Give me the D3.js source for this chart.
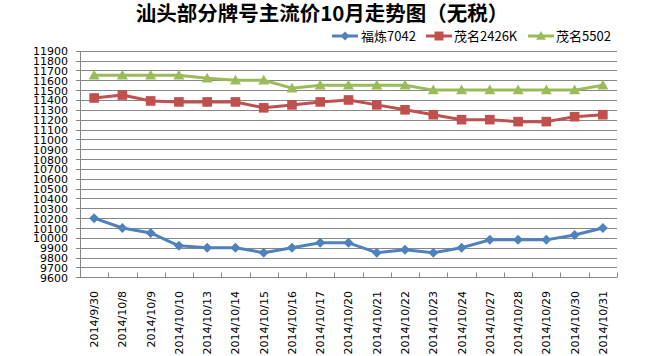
<!DOCTYPE html>
<html>
<head>
<meta charset="utf-8">
<script src="https://cdn.jsdelivr.net/npm/d3@7"></script>
<style>
  html, body { margin: 0; padding: 0; background: #fff; }
  svg { display: block; }
</style>
</head>
<body>
<div id="chart"></div>
<script>
const title = "汕头部分牌号主流价10月走势图（无税）";
const dates = ["2014/9/30","2014/10/8","2014/10/9","2014/10/10","2014/10/13","2014/10/14","2014/10/15","2014/10/16","2014/10/17","2014/10/20","2014/10/21","2014/10/22","2014/10/23","2014/10/24","2014/10/27","2014/10/28","2014/10/29","2014/10/30","2014/10/31"];
const seriesNames = ["福炼7042", "茂名2426K", "茂名5502"];
const fl7042  = [10200,10100,10050,9920,9900,9900,9850,9900,9950,9950,9850,9880,9850,9900,9980,9980,9980,10030,10100];
const mm2426K = [11420,11450,11390,11380,11380,11380,11320,11350,11380,11400,11350,11300,11250,11200,11200,11180,11180,11230,11250];
const mm5502  = [11650,11650,11650,11650,11620,11600,11600,11520,11550,11550,11550,11550,11500,11500,11500,11500,11500,11500,11550];
const yTicks = d3.range(9600, 11901, 100);

const W = 650, H = 356;
const plotL = 80, plotR = 617, plotT = 50.7, plotB = 277.3;
const colors = ["#4F81BD", "#C0504D", "#9BBB59"];
const markers = ["diamond", "square", "triangle"];
const series = [fl7042, mm2426K, mm5502];

const svg = d3.select("#chart").append("svg").attr("width", W).attr("height", H);

const x = d3.scaleBand().domain(dates).range([plotL, plotR]).padding(0);
const y = d3.scaleLinear().domain([9600, 11900]).range([plotB, plotT]);
const cx = d => x(d) + x.bandwidth() / 2;
const snap = v => Math.round(v) + 0.5;

// Title
svg.append("text")
  .attr("x", 322).attr("y", 21)
  .attr("text-anchor", "middle")
  .attr("font-family", "'Noto Sans CJK SC', sans-serif")
  .attr("font-weight", "bold")
  .attr("font-size", 20.5)
  .attr("fill", "#000")
  .text(title);

// Gridlines
const grid = svg.append("g");
yTicks.forEach(t => {
  grid.append("line")
    .attr("x1", plotL - 4).attr("x2", plotR)
    .attr("y1", snap(y(t))).attr("y2", snap(y(t)))
    .attr("stroke", "#878787").attr("stroke-width", 1);
});

// Y axis line
svg.append("line")
  .attr("x1", plotL + 0.5).attr("x2", plotL + 0.5)
  .attr("y1", snap(y(11900))).attr("y2", snap(y(9600)))
  .attr("stroke", "#878787");

// Y tick labels via d3 axis
const yAxis = d3.axisLeft(y).tickValues(yTicks).tickSize(0).tickPadding(0).tickFormat(d3.format("d"));
const yg = svg.append("g").attr("transform", `translate(${plotL - 12},0)`).call(yAxis);
yg.select(".domain").remove();
yg.selectAll("text")
  .attr("font-family", "'DejaVu Sans', sans-serif")
  .attr("font-size", 11)
  .attr("fill", "#000")
  .attr("x", 0)
  .attr("dy", "0.36em");

// X axis with inward ticks at band boundaries
const xb = svg.append("g");
xb.append("line")
  .attr("x1", plotL).attr("x2", plotR)
  .attr("y1", snap(y(9600))).attr("y2", snap(y(9600)))
  .attr("stroke", "#878787");
const boundaries = dates.map(d => x(d)).concat([plotR]);
boundaries.forEach(b => {
  xb.append("line")
    .attr("x1", snap(b)).attr("x2", snap(b))
    .attr("y1", snap(y(9600))).attr("y2", snap(y(9600)) - 5)
    .attr("stroke", "#878787");
});

// X labels via d3 axis (rotated)
const xAxis = d3.axisBottom(x).tickSize(0).tickPadding(0);
const xg = svg.append("g").attr("transform", `translate(0,291)`).call(xAxis);
xg.select(".domain").remove();
xg.selectAll("text")
  .attr("font-family", "'DejaVu Sans', sans-serif")
  .attr("font-size", 11)
  .attr("fill", "#000")
  .attr("text-anchor", "end")
  .attr("transform", "rotate(-90)")
  .attr("x", 0).attr("y", 0)
  .attr("dy", "0.36em");

// Marker shapes
function markerPath(type, s) {
  if (type === "diamond") return `M0,${-s}L${s},0L0,${s}L${-s},0Z`;
  if (type === "square") return `M${-s},${-s}H${s}V${s}H${-s}Z`;
  return `M0,${-s * 1.1}L${s * 1.1},${s * 0.85}L${-s * 1.1},${s * 0.85}Z`;
}

const line = d3.line().x((v, i) => cx(dates[i])).y(v => y(v));

series.forEach((vals, si) => {
  const g = svg.append("g");
  g.append("path")
    .attr("d", line(vals))
    .attr("fill", "none")
    .attr("stroke", colors[si])
    .attr("stroke-width", 3)
    .attr("stroke-linejoin", "round");
  g.selectAll("path.m").data(vals).enter().append("path")
    .attr("class", "m")
    .attr("d", markerPath(markers[si], markers[si] === "square" ? 4.8 : 5))
    .attr("transform", (v, i) => `translate(${cx(dates[i])},${y(v)})`)
    .attr("fill", colors[si]);
});

// Legend
const legendItems = [
  { name: seriesNames[0], x0: 332, tx: 361 },
  { name: seriesNames[1], x0: 426, tx: 454 },
  { name: seriesNames[2], x0: 528, tx: 556 }
];
const ly = 36;
legendItems.forEach((it, i) => {
  const g = svg.append("g");
  g.append("line")
    .attr("x1", it.x0).attr("x2", it.x0 + 26)
    .attr("y1", ly).attr("y2", ly)
    .attr("stroke", colors[i]).attr("stroke-width", 3);
  g.append("path")
    .attr("d", markerPath(markers[i], 4.5))
    .attr("transform", `translate(${it.x0 + 13},${ly})`)
    .attr("fill", colors[i]);
  g.append("text")
    .attr("x", it.tx).attr("y", ly)
    .attr("dy", "0.36em")
    .attr("font-family", "'Noto Sans CJK SC', sans-serif")
    .attr("font-size", 13)
    .attr("fill", "#000")
    .text(it.name);
});
</script>
</body>
</html>
